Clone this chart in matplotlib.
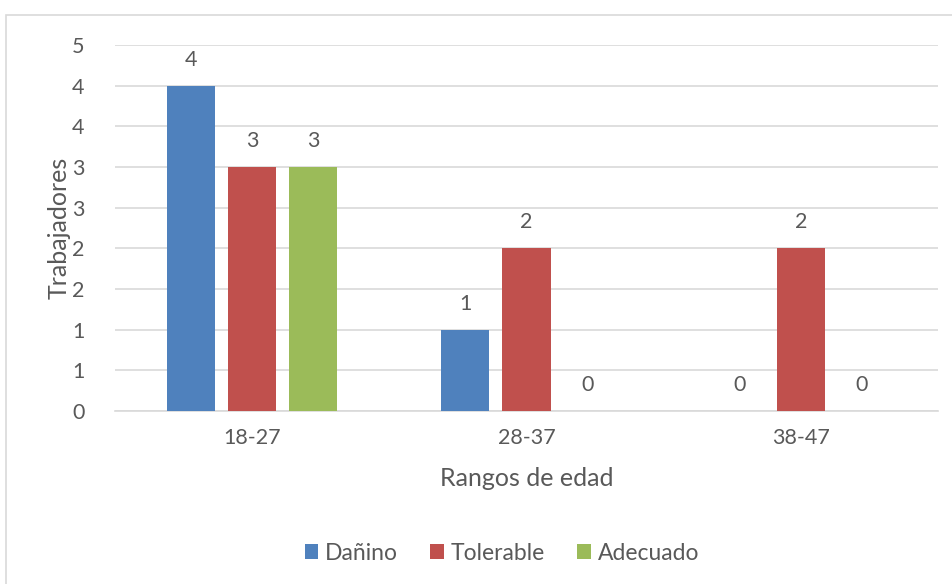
import numpy as np
import matplotlib
matplotlib.use("Agg")
import matplotlib.pyplot as plt
from matplotlib.patches import Rectangle
from matplotlib.ticker import FixedLocator, FuncFormatter

# age ranges and number of workers per category
rangos = ["18-27", "28-37", "38-47"]
series = ["Dañino", "Tolerable", "Adecuado"]
danino = [4, 1, 0]
tolerable = [3, 2, 2]
adecuado = [3, 0, 0]
colores = ["#4F81BD", "#C0504D", "#9BBB59"]

plt.rcParams["font.family"] = ["Lato", "DejaVu Sans"]
texto = "#595959"

fig = plt.figure(figsize=(9.53, 5.84), dpi=100)
ax = fig.add_axes([115 / 953, 1 - 411 / 584, (938 - 115) / 953, (411 - 45) / 584])

# chart border (right and bottom edges fall outside the canvas)
fig.patches.append(Rectangle((6 / 953, -0.05), 1.0, 1.05 - 15 / 584,
                             transform=fig.transFigure, fill=False,
                             edgecolor="#D9D9D9", linewidth=1.2))

x = np.arange(len(rangos))
ancho = 0.175
paso = 0.223
for i, (nombre, vals) in enumerate(zip(series, [danino, tolerable, adecuado])):
    pos = x + (i - 1) * paso
    ax.bar(pos, vals, width=ancho, color=colores[i], label=nombre, zorder=3)
    for xp, v in zip(pos, vals):
        ax.text(xp, v + 0.32, f"{v}", ha="center", va="center", fontsize=15.5, color=texto)

ax.set_xlim(-0.5, 2.5)
ax.set_ylim(0, 4.5)
ax.yaxis.set_major_locator(FixedLocator(np.arange(0, 4.51, 0.5)))
ax.yaxis.set_major_formatter(FuncFormatter(lambda v, p: f"{int(np.floor(v + 0.5))}"))
ax.grid(axis="y", color="#D9D9D9", linewidth=1.2, zorder=0)
ax.set_xticks(x)
ax.set_xticklabels(rangos)
ax.tick_params(axis="both", length=0, labelsize=15.5, labelcolor=texto)
ax.tick_params(axis="x", pad=12)
ax.tick_params(axis="y", pad=22)
for lado in ["top", "right", "left"]:
    ax.spines[lado].set_visible(False)
ax.spines["bottom"].set_color("#D9D9D9")
ax.spines["bottom"].set_linewidth(1.2)

ax.set_xlabel("Rangos de edad", fontsize=18, color=texto, labelpad=14)
ax.set_ylabel("Trabajadores", fontsize=18, color=texto)
ax.yaxis.set_label_coords(-0.054, 0.5)

fig.legend(loc="center", bbox_to_anchor=(502 / 953, 1 - 553 / 584), ncol=3,
           frameon=False, fontsize=16.5, labelcolor=texto, handlelength=0.6,
           handleheight=0.6, handletextpad=0.3, columnspacing=1.4)

fig.savefig("out.png", dpi=100)
